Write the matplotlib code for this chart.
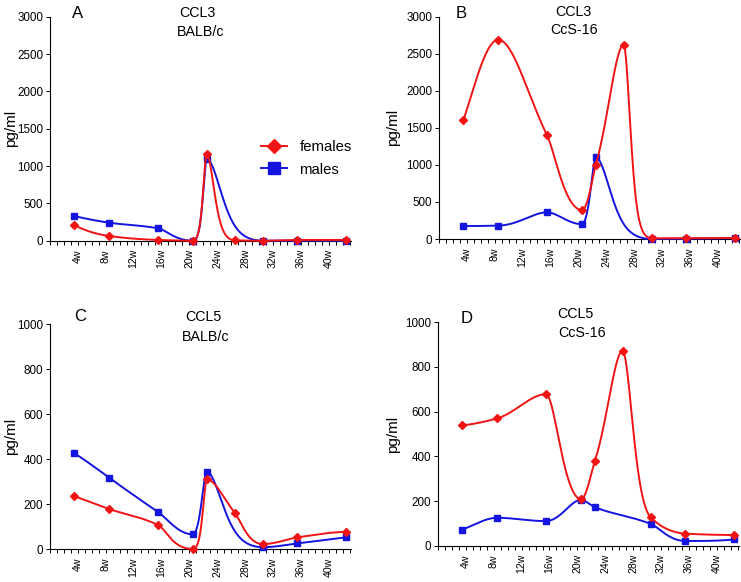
import numpy as np
import matplotlib
matplotlib.use("Agg")
import matplotlib.pyplot as plt
from matplotlib.ticker import FixedLocator, MultipleLocator
from matplotlib.lines import Line2D

plt.rcParams['font.family'] = ['Liberation Sans', 'DejaVu Sans']

# ---------------- data ----------------
weeks_females = [3.5, 8.5, 15.5, 20.5, 22.5, 26.5, 30.5, 35.5, 42.5]
weeks_males = [3.5, 8.5, 15.5, 20.5, 22.5, 30.5, 35.5, 42.5]

ccl3_balbc_females = [210, 63, 10, 0, 1157, 5, 0, 10, 10]
ccl3_balbc_males = [330, 241, 166, 0, 1090, 0, 0, 0]
ccl3_ccs16_females = [1600, 2690, 1400, 390, 1000, 2620, 10, 10, 15]
ccl3_ccs16_males = [175, 180, 360, 200, 1100, 0, 5, 10]
ccl5_balbc_females = [235, 178, 107, 0, 310, 162, 22, 52, 76]
ccl5_balbc_males = [426, 317, 165, 65, 343, 8, 25, 52]
ccl5_ccs16_females = [539, 570, 678, 208, 378, 872, 128, 54, 48]
ccl5_ccs16_males = [72, 125, 110, 205, 173, 98, 21, 28]

xtick_values = [4, 8, 12, 16, 20, 24, 28, 32, 36, 40]
xtick_labels = ['4w', '8w', '12w', '16w', '20w', '24w', '28w', '32w', '36w', '40w']

panels = [
    dict(letter='A', l1='CCL3', l2='BALB/c', f=ccl3_balbc_females, m=ccl3_balbc_males, ymax=3000, ystep=500),
    dict(letter='B', l1='CCL3', l2='CcS-16', f=ccl3_ccs16_females, m=ccl3_ccs16_males, ymax=3000, ystep=500),
    dict(letter='C', l1='CCL5', l2='BALB/c', f=ccl5_balbc_females, m=ccl5_balbc_males, ymax=1000, ystep=200),
    dict(letter='D', l1='CCL5', l2='CcS-16', f=ccl5_ccs16_females, m=ccl5_ccs16_males, ymax=1000, ystep=200),
]

RED = '#f01414'
BLUE = '#1414e0'


def pchip_slopes(x, y):
    h = np.diff(x)
    d = np.diff(y) / h
    n = len(x)
    m = np.zeros(n)
    for k in range(1, n - 1):
        if d[k - 1] * d[k] <= 0:
            m[k] = 0.0
        else:
            w1 = 2 * h[k] + h[k - 1]
            w2 = h[k] + 2 * h[k - 1]
            m[k] = (w1 + w2) / (w1 / d[k - 1] + w2 / d[k])

    def end(h0, h1, d0, d1):
        mm = ((2 * h0 + h1) * d0 - h0 * d1) / (h0 + h1)
        if np.sign(mm) != np.sign(d0):
            mm = 0.0
        elif np.sign(d0) != np.sign(d1) and abs(mm) > abs(3 * d0):
            mm = 3 * d0
        return mm

    m[0] = end(h[0], h[1], d[0], d[1])
    m[-1] = end(h[-1], h[-2], d[-1], d[-2])
    return m


def pchip(x, y, xs):
    x = np.asarray(x, float); y = np.asarray(y, float)
    m = pchip_slopes(x, y)
    idx = np.clip(np.searchsorted(x, xs) - 1, 0, len(x) - 2)
    hh = x[idx + 1] - x[idx]
    t = (xs - x[idx]) / hh
    h00 = 2 * t ** 3 - 3 * t ** 2 + 1
    h10 = t ** 3 - 2 * t ** 2 + t
    h01 = -2 * t ** 3 + 3 * t ** 2
    h11 = t ** 3 - t ** 2
    return h00 * y[idx] + h10 * hh * m[idx] + h01 * y[idx + 1] + h11 * hh * m[idx + 1]


def smooth(x, y, c):
    xs = np.linspace(x[0], x[-1], 1500)
    ly = np.log(np.asarray(y, float) + c)
    ys = np.exp(pchip(x, ly, xs)) - c
    return xs, ys


fig = plt.figure(figsize=(7.41, 5.82), dpi=100)
W, H = 741, 582
XMAX = 43.2
boxes = [(50, 16.7, 240.7), (439, 16.7, 239.0), (50, 324.3, 549.0), (438, 322.3, 545.7)]
axw = 301
text_pos = [
    ((0.093, 1.016), (0.49, 1.016), (0.50, 0.932)),
    ((0.075, 1.015), (0.448, 1.022), (0.448, 0.94)),
    ((0.10, 1.034), (0.509, 1.034), (0.517, 0.945)),
    ((0.095, 1.018), (0.455, 1.037), (0.477, 0.951)),
]
ylabel_x = [-0.106, -0.130, -0.106, -0.126]

for k, (p, (lx, ty, by), tp) in enumerate(zip(panels, boxes, text_pos)):
    ax = fig.add_axes([lx / W, 1 - by / H, axw / W, (by - ty) / H])
    c = p['ymax'] * 0.02
    xs, ys = smooth(weeks_males, p['m'], c)
    ax.plot(xs, ys, color=BLUE, lw=1.4, zorder=3, clip_on=False)
    ax.plot(weeks_males, p['m'], 's', color=BLUE, ms=4.8, zorder=4, clip_on=False)
    xs, ys = smooth(weeks_females, p['f'], c)
    ax.plot(xs, ys, color=RED, lw=1.4, zorder=5, clip_on=False)
    ax.plot(weeks_females, p['f'], 'D', color=RED, ms=3.8, zorder=6, clip_on=False)

    ax.set_xlim(0, XMAX)
    ax.set_ylim(0, p['ymax'])
    ax.spines['top'].set_visible(False)
    ax.spines['right'].set_visible(False)
    for s in ('left', 'bottom'):
        ax.spines[s].set_linewidth(0.8)
    ax.xaxis.set_major_locator(FixedLocator(xtick_values))
    ax.set_xticklabels(xtick_labels, rotation=90, fontsize=7.6)
    ax.xaxis.set_minor_locator(MultipleLocator(1))
    ax.tick_params(axis='x', which='both', length=3, width=0.7, pad=3)
    ax.set_yticks(np.arange(0, p['ymax'] + 1, p['ystep']))
    ax.tick_params(axis='y', length=3, width=0.7, pad=2, labelsize=8.4)
    ax.set_ylabel('pg/ml', fontsize=11)
    ax.yaxis.set_label_coords(ylabel_x[k], 0.5)
    ax.text(tp[0][0], tp[0][1], p['letter'], transform=ax.transAxes, ha='center', va='center', fontsize=12)
    ax.text(tp[1][0], tp[1][1], p['l1'], transform=ax.transAxes, ha='center', va='center', fontsize=10.3)
    ax.text(tp[2][0], tp[2][1], p['l2'], transform=ax.transAxes, ha='center', va='center', fontsize=10.3)

    if k == 0:
        hf = Line2D([], [], color=RED, lw=1.4, marker='D', ms=7.5)
        hm = Line2D([], [], color=BLUE, lw=1.4, marker='s', ms=8.5)
        ax.legend([hf, hm], ['females', 'males'], loc='upper left', bbox_to_anchor=(0.70, 0.448),
                  frameon=False, fontsize=10.7, handlelength=1.8, handletextpad=0.8,
                  labelspacing=0.55, borderpad=0, borderaxespad=0)

fig.savefig('out.png', dpi=100)
